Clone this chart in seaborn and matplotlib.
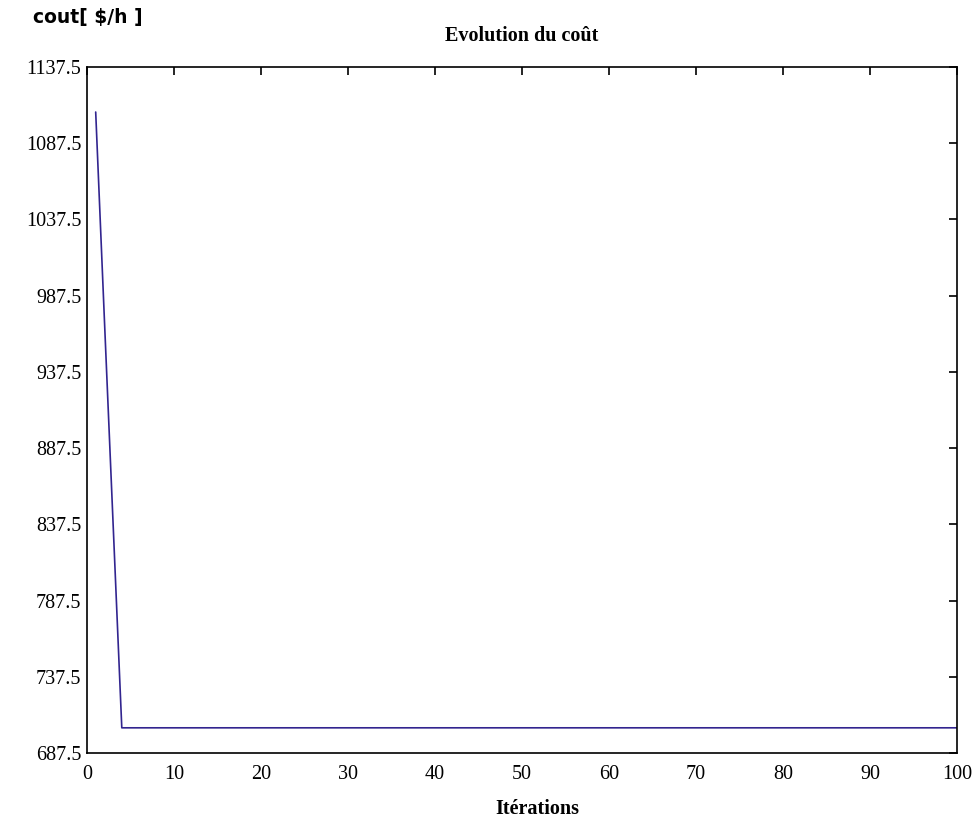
import matplotlib
matplotlib.use('Agg')
import matplotlib.pyplot as plt
import seaborn as sns
import pandas as pd

# Iterations and cost values
iterations = list(range(1, 101))
cost_start = [1108.0, 972.0, 838.0]
cost_final = 704.0
cost = cost_start + [cost_final] * (len(iterations) - len(cost_start))

y_ticks = [687.5, 737.5, 787.5, 837.5, 887.5, 937.5, 987.5, 1037.5, 1087.5, 1137.5]
x_ticks = [0, 10, 20, 30, 40, 50, 60, 70, 80, 90, 100]

df = pd.DataFrame({'iteration': iterations, 'cost': cost})

sns.set_style('white')
plt.rcParams['font.family'] = ['Liberation Serif', 'DejaVu Serif']
plt.rcParams['text.color'] = 'black'

fig = plt.figure(figsize=(9.72, 8.18), dpi=100)
ax = fig.add_axes([0.0895, 0.0795, 0.895, 0.8385])

sns.lineplot(data=df, x='iteration', y='cost', color='#32258f', linewidth=1.2, ax=ax)

ax.set_xlim(0, 100)
ax.set_ylim(687.5, 1137.5)
ax.set_xticks(x_ticks)
ax.set_yticks(y_ticks)
ax.set_yticklabels([f'{v:.1f}' for v in y_ticks])

ax.tick_params(direction='in', length=6, width=1.2, top=True, right=True,
               labelsize=14.5, colors='black')
ax.tick_params(axis='y', pad=4)
ax.tick_params(axis='x', pad=9)
for s in ax.spines.values():
    s.set_color('black')
    s.set_linewidth(1.2)
ax.grid(False)

ax.set_xlabel('')
ax.set_ylabel('')
ax.set_title('Evolution du coût', fontsize=14.5, fontweight='bold', pad=19,
             color='black')
fig.text(0.553, 0.011, 'Itérations', fontsize=14.5, fontweight='bold',
         ha='center', va='center', color='black')

fig.text(0.034, 0.978, 'cout[ $/h ]', fontsize=13.5, fontweight='heavy',
         family=['DejaVu Sans'], ha='left', va='center', color='black')

fig.savefig('out.png', dpi=100)
